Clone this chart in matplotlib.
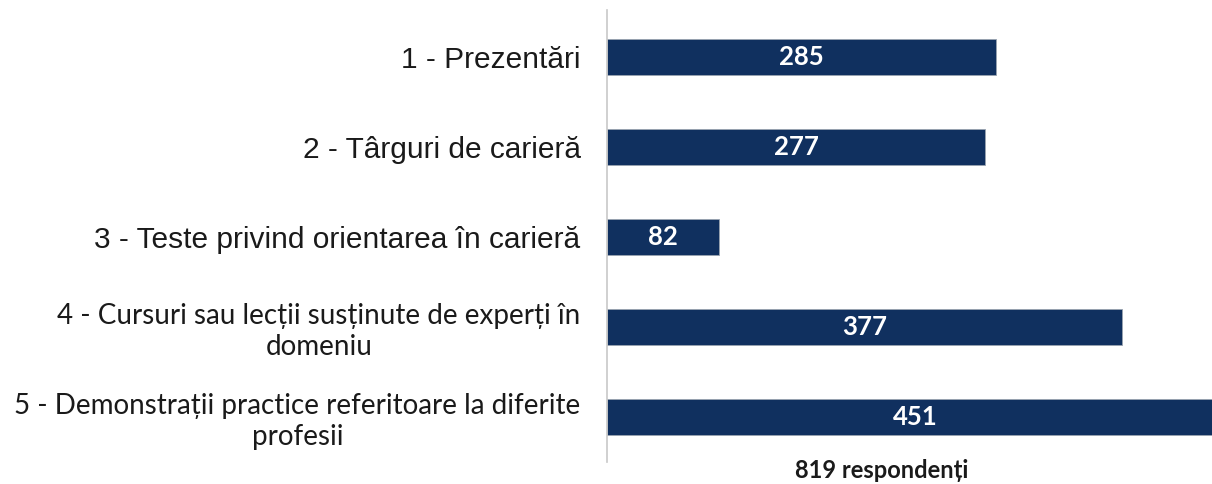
import matplotlib.pyplot as plt

categories = [
    "1 - Prezentări",
    "2 - Târguri de carieră",
    "3 - Teste privind orientarea în carieră",
    "4 - Cursuri sau lecții susținute de experți în\ndomeniu",
    "5 - Demonstrații practice referitoare la diferite\nprofesii",
]
values = [285, 277, 82, 377, 451]
label_fonts = ["Liberation Sans", "Liberation Sans", "Liberation Sans", "Lato", "Lato"]
label_sizes = [21.5, 21.5, 21.5, 20, 20]
xlabel = "819 respondenți"

bar_color = "#10305f"

fig = plt.figure(figsize=(12.12, 4.84), dpi=100)
ax = fig.add_axes([607 / 1212, 22 / 484, 605 / 1212, 452 / 484])

pos = list(range(len(values)))
ax.barh(pos, values, height=0.4, color=bar_color, edgecolor="#9aa3b0", linewidth=0.6)

for y, v in zip(pos, values):
    ax.text(v / 2, y, str(v), color="white", ha="center", va="center",
            fontsize=18.5, fontweight="bold", family="Lato")

ax.set_xlim(0, 443)
ax.set_ylim(4.5, -0.52)

ax.set_yticks(pos)
ax.set_yticklabels(categories, multialignment="center")
for t, f, s in zip(ax.get_yticklabels(), label_fonts, label_sizes):
    t.set_family(f)
    t.set_fontsize(s)
ax.tick_params(axis="y", length=0, pad=19, colors="#1a1a1a")
ax.set_xticks([])

for s in ["top", "right", "bottom"]:
    ax.spines[s].set_visible(False)
ax.spines["left"].set_color("#c8c8c8")
ax.spines["left"].set_linewidth(1.2)

fig.text(882 / 1212, 1 - 470 / 484, xlabel, ha="center", va="center",
         fontsize=17, fontweight="bold", family="Lato", color="#1a1a1a")

fig.savefig("out.png", dpi=100)
